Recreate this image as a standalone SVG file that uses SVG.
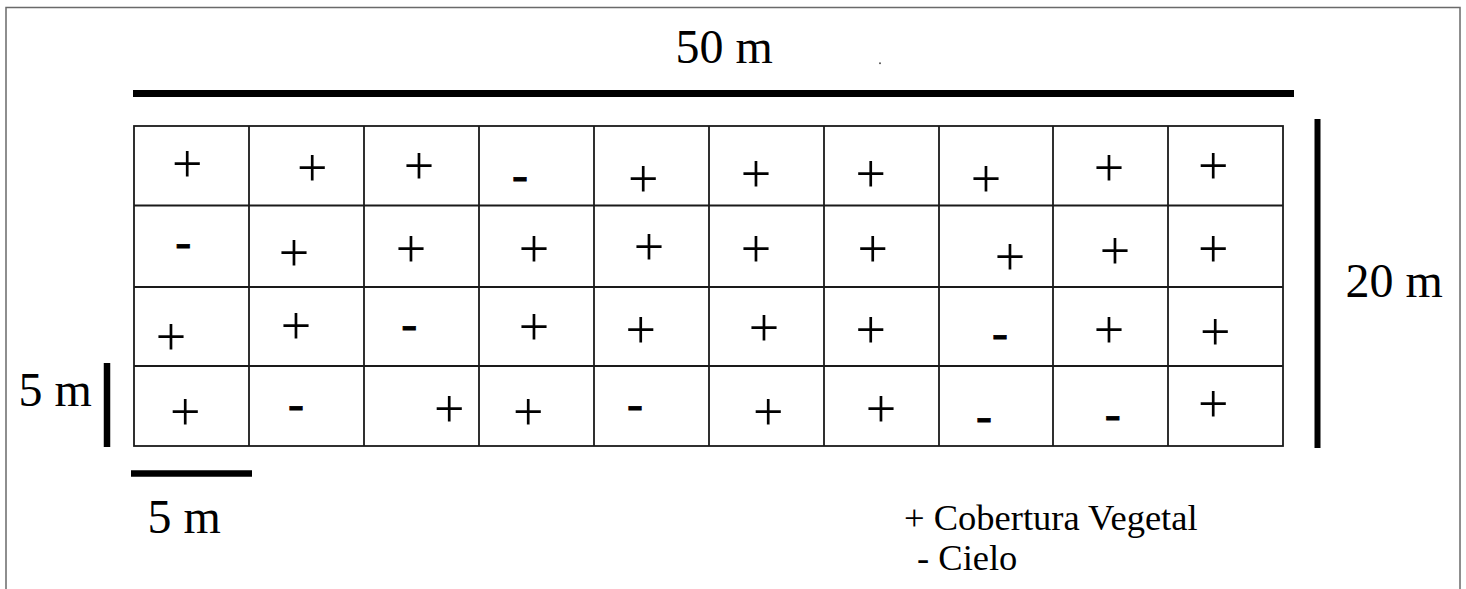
<svg xmlns="http://www.w3.org/2000/svg" width="1466" height="589" viewBox="0 0 1466 589">
<style>
.t{font-family:"Liberation Serif","Times New Roman",serif;fill:#000}
.big{font-size:48px}
.p{font-size:54px;text-anchor:middle}
.m{font-size:48px;text-anchor:middle;stroke:#000;stroke-width:0.8}
.leg{font-size:36.5px}
.grid{stroke:#1a1a1a;stroke-width:1.8;fill:none}
.bar{stroke:#000;fill:none}
</style>
<rect width="1466" height="589" fill="#fff"/>
<rect id="frame" x="6" y="7.5" width="1454" height="620" fill="none" stroke="#6a6a6a" stroke-width="1.5"/>

<g id="scale-bars">
<line class="bar" x1="133" y1="93.5" x2="1294" y2="93.5" stroke-width="7"/>
<line class="bar" x1="1317.5" y1="119" x2="1317.5" y2="448" stroke-width="6"/>
<line class="bar" x1="107" y1="363" x2="107" y2="447" stroke-width="6.5"/>
<line class="bar" x1="131" y1="473.5" x2="252" y2="473.5" stroke-width="6.5"/>
<circle cx="880" cy="63.3" r="1" fill="#555"/>
</g>

<g id="grid" class="grid">
<rect x="134" y="126" width="1149" height="320"/>
<path d="M249 126V446M364 126V446M479 126V446M594 126V446M709 126V446M824 126V446M939 126V446M1053 126V446M1168 126V446"/>
<path d="M134 205.5H1283M134 287H1283M134 366H1283"/>
</g>

<g id="labels" class="t">
<text class="big" x="675.5" y="63">50 m</text>
<text class="big" x="1345.5" y="297">20 m</text>
<text class="big" x="18.5" y="406">5 m</text>
<text class="big" x="147.5" y="533">5 m</text>
</g>

<g id="legend" class="t leg">
<text x="904" y="530">+ Cobertura Vegetal</text>
<text x="917" y="570">- Cielo</text>
</g>

<g id="row1" class="t" transform="translate(0,4)">
<text class="p" x="187.3" y="178.2">+</text>
<text class="p" x="312.3" y="182.4">+</text>
<text class="p" x="419" y="180">+</text>
<text class="m" x="520" y="187">-</text>
<text class="p" x="643.3" y="193">+</text>
<text class="p" x="756" y="187.7">+</text>
<text class="p" x="870.7" y="188">+</text>
<text class="p" x="986" y="192.7">+</text>
<text class="p" x="1109" y="182">+</text>
<text class="p" x="1213.3" y="179.7">+</text>
</g>
<g id="row2" class="t" transform="translate(0,4)">
<text class="m" x="183.3" y="254.3">-</text>
<text class="p" x="294" y="267">+</text>
<text class="p" x="411" y="263">+</text>
<text class="p" x="534" y="263">+</text>
<text class="p" x="649" y="261">+</text>
<text class="p" x="756" y="263">+</text>
<text class="p" x="872.7" y="263">+</text>
<text class="p" x="1010" y="271">+</text>
<text class="p" x="1115" y="265.4">+</text>
<text class="p" x="1213.3" y="263">+</text>
</g>
<g id="row3" class="t" transform="translate(0,4)">
<text class="p" x="171" y="351.4">+</text>
<text class="p" x="296" y="339.7">+</text>
<text class="m" x="409.3" y="335.6">-</text>
<text class="p" x="534" y="341.4">+</text>
<text class="p" x="640.7" y="343.7">+</text>
<text class="p" x="764" y="341.7">+</text>
<text class="p" x="870.7" y="343.7">+</text>
<text class="m" x="1000" y="345.3">-</text>
<text class="p" x="1109" y="343.7">+</text>
<text class="p" x="1215.3" y="346">+</text>
</g>
<g id="row4" class="t" transform="translate(0,4)">
<text class="p" x="185.3" y="426.4">+</text>
<text class="m" x="296" y="416.3">-</text>
<text class="p" x="449.3" y="422.7">+</text>
<text class="p" x="528.3" y="426.4">+</text>
<text class="m" x="635" y="416.3">-</text>
<text class="p" x="768.3" y="426.4">+</text>
<text class="p" x="881" y="422.7">+</text>
<text class="m" x="984" y="428">-</text>
<text class="m" x="1112.7" y="426">-</text>
<text class="p" x="1213.3" y="418">+</text>
</g>
</svg>
